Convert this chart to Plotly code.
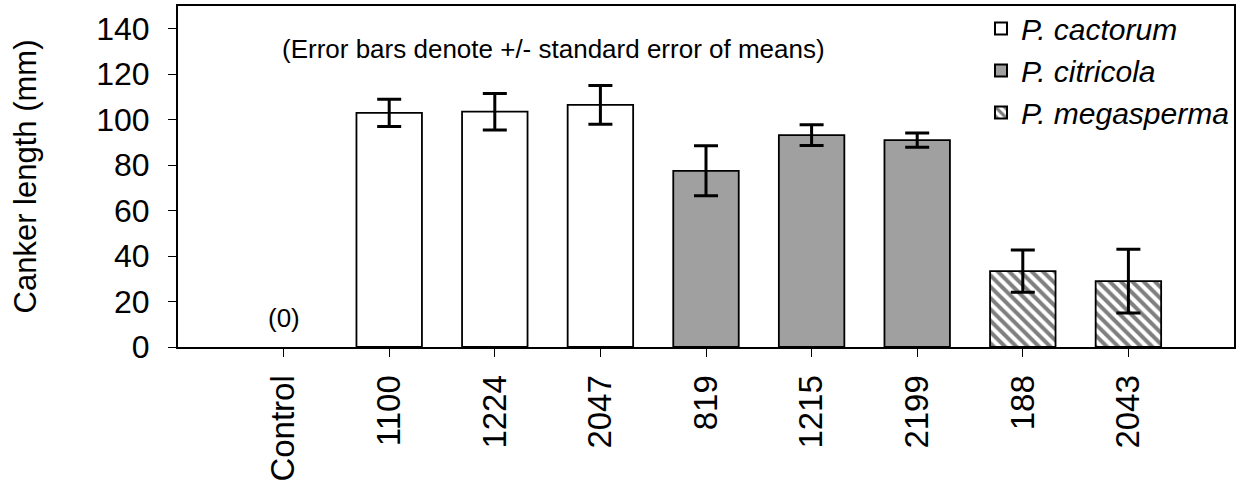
import plotly.graph_objects as go

categories = ["Control", "1100", "1224", "2047", "819", "1215", "2199", "188", "2043"]

control_x = ["Control"]
control_y = [0]

cactorum_x = ["1100", "1224", "2047"]
cactorum_y = [103, 103.5, 106.5]
cactorum_se = [6, 8, 8.5]

citricola_x = ["819", "1215", "2199"]
citricola_y = [77.5, 93.2, 91]
citricola_se = [11, 4.6, 3.1]

megasperma_x = ["188", "2043"]
megasperma_y = [33.4, 29]
megasperma_se = [9.3, 14]

y_ticks = [0, 20, 40, 60, 80, 100, 120, 140]

FONT = "Liberation Sans, Arial, sans-serif"
BAR_W = 0.62
err_style = dict(type="data", color="black", thickness=3, width=12, visible=True)

fig = go.Figure()

fig.add_trace(go.Bar(
    x=control_x, y=control_y, width=BAR_W, showlegend=False,
    marker=dict(color="white", line=dict(width=0)), hoverinfo="skip",
))
fig.add_trace(go.Bar(
    x=cactorum_x, y=cactorum_y, width=BAR_W, name="<i>P. cactorum</i>",
    marker=dict(color="white", line=dict(color="black", width=1.8)),
    error_y=dict(array=cactorum_se, **err_style),
))
fig.add_trace(go.Bar(
    x=citricola_x, y=citricola_y, width=BAR_W, name="<i>P. citricola</i>",
    marker=dict(color="#a0a0a0", line=dict(color="black", width=1.8)),
    error_y=dict(array=citricola_se, **err_style),
))
fig.add_trace(go.Bar(
    x=megasperma_x, y=megasperma_y, width=BAR_W, name="<i>P. megasperma</i>",
    marker=dict(color="white", line=dict(color="black", width=1.8),
                pattern=dict(shape="\\", fgcolor="black", bgcolor="white",
                             size=8, solidity=0.5)),
    error_y=dict(array=megasperma_se, **err_style),
))

fig.add_annotation(
    x="Control", y=control_y[0], text=f"({control_y[0]})", showarrow=False,
    yanchor="bottom", yshift=12, font=dict(family=FONT, size=26, color="black"),
)
fig.add_annotation(
    xref="paper", yref="paper", x=0.356, y=0.874, xanchor="center", yanchor="middle",
    text="(Error bars denote +/- standard error of means)", showarrow=False,
    font=dict(family=FONT, size=26, color="black"),
)

fig.update_layout(
    width=1239, height=492,
    margin=dict(l=178, r=3, t=5, b=145),
    paper_bgcolor="white", plot_bgcolor="white",
    barmode="overlay",
    font=dict(family=FONT, color="black"),
    legend=dict(
        x=1, y=1.01, xanchor="right", yanchor="top",
        font=dict(family=FONT, size=30, color="black"),
        bgcolor="rgba(0,0,0,0)", borderwidth=0,
        tracegroupgap=0, itemsizing="constant",
    ),
    xaxis=dict(
        type="category", categoryorder="array", categoryarray=categories,
        range=[-1, len(categories)],
        showline=True, linecolor="black", linewidth=2, mirror=True,
        ticks="outside", ticklen=8, tickcolor="black", tickwidth=1,
        tickangle=-90, tickfont=dict(family=FONT, size=33, color="black"),
        ticklabelstandoff=5,
        showgrid=False, zeroline=False,
    ),
    yaxis=dict(
        range=[0, 150], tickmode="array", tickvals=y_ticks,
        showline=True, linecolor="black", linewidth=2, mirror=True,
        ticks="outside", ticklen=8, tickcolor="black", tickwidth=1,
        tickfont=dict(family=FONT, size=32, color="black"),
        ticklabelstandoff=12,
        title=dict(text="Canker length (mm)", font=dict(family=FONT, size=31, color="black"),
                   standoff=50),
        showgrid=False, zeroline=False,
    ),
)

fig.write_html("out.html")
